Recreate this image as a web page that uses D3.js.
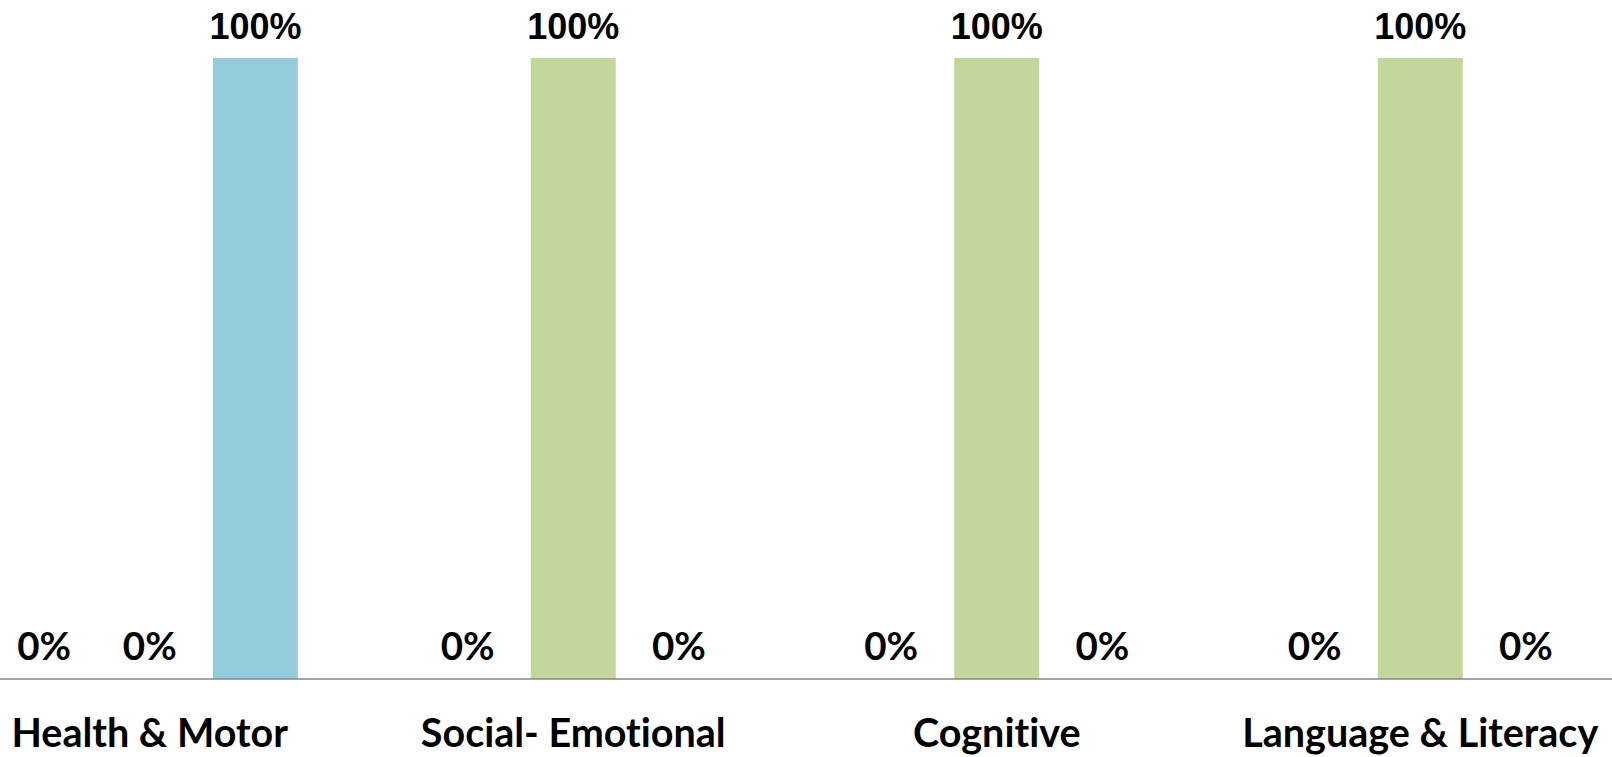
<!DOCTYPE html>
<html>
<head>
<meta charset="utf-8">
<script src="https://cdn.jsdelivr.net/npm/d3@7"></script>
<style>
  html, body { margin: 0; padding: 0; background: #fff; }
  svg { display: block; }
  text { font-variant-ligatures: none; font-feature-settings: "liga" 0; }
</style>
</head>
<body>
<svg id="chart" width="1612" height="757"></svg>
<script>
const categories = ["Health & Motor", "Social- Emotional", "Cognitive", "Language & Literacy"];
const seriesNames = ["Series A", "Series B", "Series C"];
const seriesA = [0, 0, 0, 0];
const seriesB = [0, 1, 1, 1];
const seriesC = [1, 0, 0, 0];
const seriesColors = ["#C3D69B", "#C3D69B", "#93CDDD"];

const seriesValues = [seriesA, seriesB, seriesC];

const W = 1612, H = 757;
const svg = d3.select("#chart");

const x0 = d3.scaleBand().domain(categories).range([-62, 1632]).paddingInner(0).paddingOuter(0);
const groupInner = 317;
const x1 = d3.scaleBand().domain(seriesNames)
  .range([x0.bandwidth() / 2 - groupInner / 2, x0.bandwidth() / 2 + groupInner / 2])
  .paddingInner(0.196).paddingOuter(0.098);
const y = d3.scaleLinear().domain([0, 1]).range([679, 58]);

const data = [];
categories.forEach((c, i) => {
  seriesNames.forEach((s, j) => {
    data.push({ cat: c, series: s, si: j, value: seriesValues[j][i] });
  });
});

const g = svg.append("g");
const groups = g.selectAll("g.grp").data(categories).join("g")
  .attr("class", "grp")
  .attr("transform", d => `translate(${x0(d)},0)`);

groups.selectAll("rect").data(c => data.filter(d => d.cat === c)).join("rect")
  .attr("x", d => x1(d.series))
  .attr("width", x1.bandwidth())
  .attr("y", d => y(d.value))
  .attr("height", d => y(0) - y(d.value))
  .attr("fill", d => seriesColors[d.si]);

groups.selectAll("text.lbl").data(c => data.filter(d => d.cat === c)).join("text")
  .attr("class", "lbl")
  .attr("x", d => x1(d.series) + x1.bandwidth() / 2)
  .attr("y", d => y(d.value) - 19.5)
  .attr("text-anchor", "middle")
  .attr("font-weight", "bold")
  .attr("font-family", d => d.value > 0 ? "Liberation Sans, Arial, sans-serif" : "Lato, Open Sans, sans-serif")
  .attr("font-size", d => d.value > 0 ? 36 : 38.5)
  .attr("fill", "#000")
  .text(d => d3.format(".0%")(d.value));

// x axis
const xAxis = d3.axisBottom(x0).tickSize(0).tickPadding(0);
const ax = svg.append("g").attr("transform", `translate(0,${y(0)})`).call(xAxis);
ax.select(".domain").remove();
svg.append("line")
  .attr("x1", 0).attr("x2", W)
  .attr("y1", y(0)).attr("y2", y(0))
  .attr("stroke", "#868686").attr("stroke-width", 1.5);
ax.selectAll(".tick text")
  .attr("y", 68)
  .attr("dy", 0)
  .attr("font-family", "Lato, Open Sans, sans-serif")
  .attr("font-weight", "bold")
  .attr("font-size", 39.5)
  .attr("fill", "#000");
</script>
</body>
</html>
